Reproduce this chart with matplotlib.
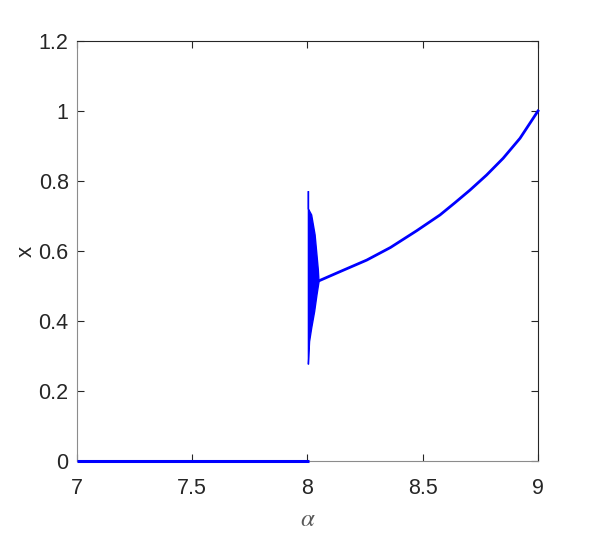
import matplotlib
matplotlib.use("Agg")
import matplotlib.pyplot as plt

plt.rcParams["font.family"] = ["Liberation Sans", "DejaVu Sans"]
plt.rcParams["mathtext.fontset"] = "stix"

# trivial branch x = 0
zero_alpha = [7.0, 8.007]
zero_x = [0.0, 0.0]

# oscillating transient near alpha = 8 (envelope)
spindle_alpha = [8.004, 8.004, 8.018, 8.033, 8.041, 8.047, 8.050, 8.041, 8.031, 8.018, 8.009, 8.004]
spindle_x = [0.771, 0.720, 0.703, 0.646, 0.589, 0.546, 0.512, 0.474, 0.427, 0.379, 0.341, 0.276]

# stable branch
branch_alpha = [8.047, 8.141, 8.257, 8.360, 8.474, 8.575, 8.640, 8.705, 8.777, 8.849, 8.922, 9.0]
branch_x = [0.514, 0.541, 0.574, 0.610, 0.658, 0.703, 0.738, 0.774, 0.817, 0.865, 0.922, 1.0]

x_ticks = [7, 7.5, 8, 8.5, 9]
x_tick_labels = ["7", "7.5", "8", "8.5", "9"]
y_ticks = [0, 0.2, 0.4, 0.6, 0.8, 1.0, 1.2]
y_tick_labels = ["0", "0.2", "0.4", "0.6", "0.8", "1", "1.2"]

fig = plt.figure(figsize=(5.94, 5.4), dpi=100)
ax = fig.add_axes([0.1296, 0.1463, 0.7761, 0.7778])

ax.plot(zero_alpha, zero_x, color="#0000ff", lw=2.2, solid_capstyle="butt",
        clip_on=False, zorder=5)
ax.fill(spindle_alpha, spindle_x, color="#0000ff", lw=1.0, ec="#0000ff", zorder=4)
ax.plot(branch_alpha, branch_x, color="#0000ff", lw=2.0, clip_on=False, zorder=5)

ax.set_xlim(7, 9)
ax.set_ylim(0, 1.2)
ax.set_xticks(x_ticks)
ax.set_xticklabels(x_tick_labels)
ax.set_yticks(y_ticks)
ax.set_yticklabels(y_tick_labels)

ax.tick_params(direction="in", length=5, width=0.8, top=True, right=True,
               labelsize=15.5, colors="0.15")
ax.tick_params(axis="x", pad=12)
ax.tick_params(axis="y", pad=6)
for side in ["left", "bottom"]:
    ax.spines[side].set_color("0.55")
for side in ["top", "right"]:
    ax.spines[side].set_color("0.15")
for s in ax.spines.values():
    s.set_linewidth(0.8)

ax.set_xlabel(r"$\alpha$", fontsize=18, color="0.35", labelpad=6)
ax.set_ylabel("x", fontsize=16, color="0.15", labelpad=1)

fig.savefig("out.png", dpi=100)
